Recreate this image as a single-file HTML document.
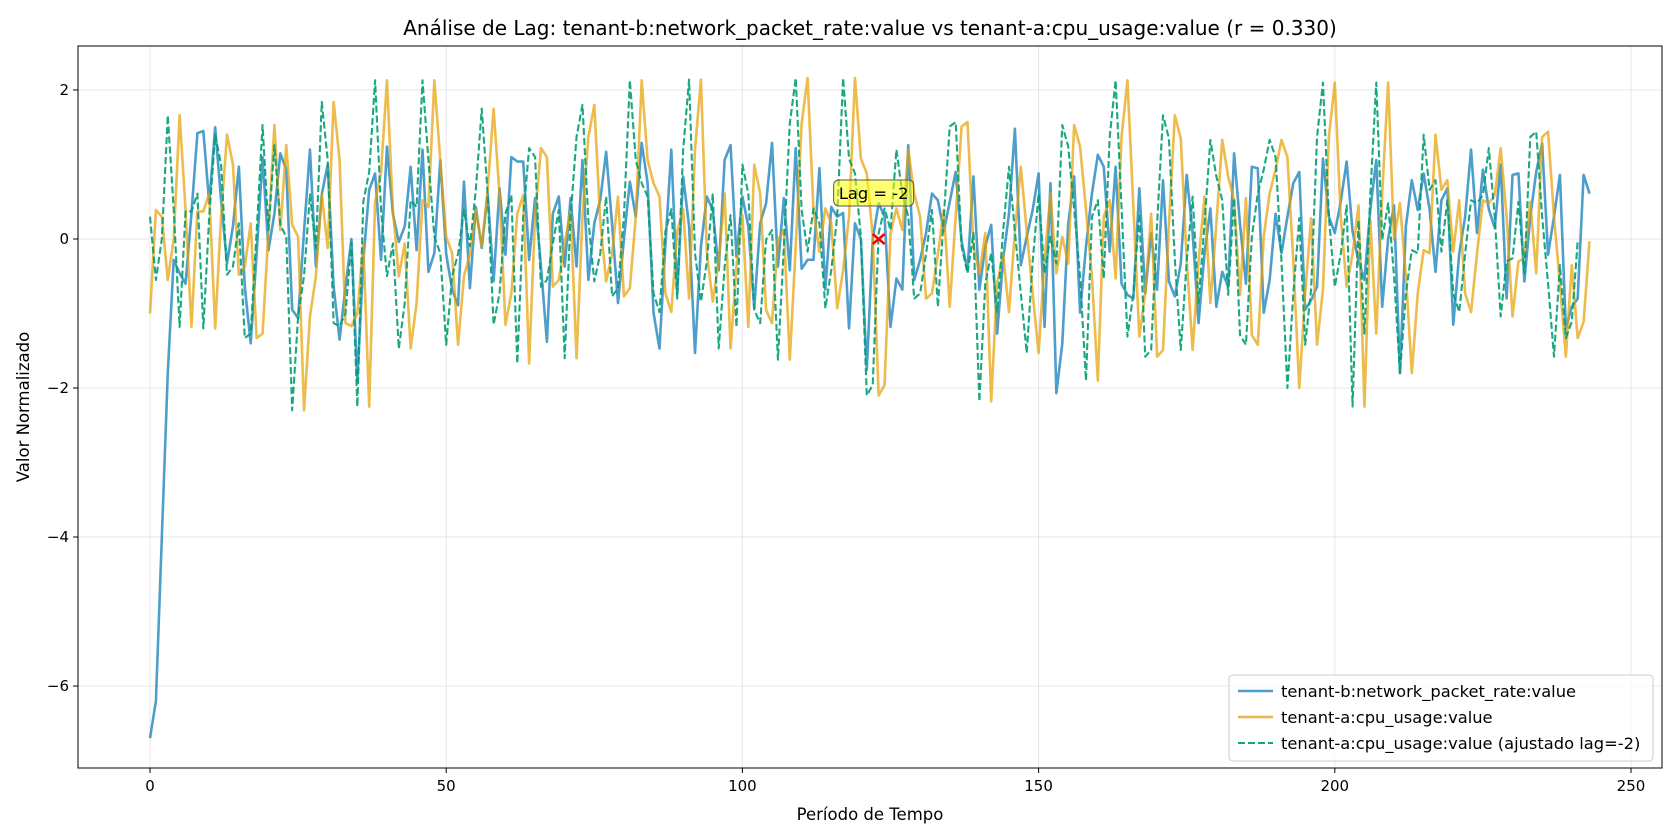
<!DOCTYPE html>
<html><head><meta charset="utf-8">
<style>
html,body{margin:0;padding:0;background:#fff;}
svg{display:block;font-family:"DejaVu Sans","Liberation Sans",sans-serif;}
</style></head>
<body>
<svg id="chart" width="1680" height="840" viewBox="0 0 1680 840" xmlns="http://www.w3.org/2000/svg">
<rect width="1680" height="840" fill="#fff"/>
<text x="870" y="35" font-size="20" text-anchor="middle" fill="#000">Análise de Lag: tenant-b:network_packet_rate:value vs tenant-a:cpu_usage:value (r = 0.330)</text>
<g id="grid"></g>
<g id="series"></g>
<rect x="78" y="46" width="1584" height="722" fill="none" stroke="#000" stroke-width="1"/>
<g id="ticks"></g>
<text x="870" y="820" font-size="16.5" text-anchor="middle">Período de Tempo</text>
<text x="0" y="0" font-size="16.5" text-anchor="middle" transform="translate(29,407) rotate(-90)">Valor Normalizado</text>
<g id="annot"></g>
<g>
<rect x="1229" y="675" width="424" height="86" rx="4" fill="#fff" fill-opacity="0.8" stroke="#ccc"/>
<g>
<line x1="1238" y1="691" x2="1273" y2="691" stroke="#4b9dcc" stroke-width="2.6"/>
<text x="1281" y="697" font-size="16.3">tenant-b:network_packet_rate:value</text></g>
<g>
<line x1="1238" y1="717" x2="1273" y2="717" stroke="#ebb44a" stroke-width="2.6"/>
<text x="1281" y="723" font-size="16.3">tenant-a:cpu_usage:value</text></g>
<g>
<line x1="1238" y1="743" x2="1273" y2="743" stroke="#12a47a" stroke-width="2" stroke-dasharray="7,3"/>
<text x="1281" y="749" font-size="16.3">tenant-a:cpu_usage:value (ajustado lag=-2)</text></g>
</g>
</svg>
<script>
const blueValues = [-6.7,-6.2,-4.0,-1.8,-0.28,-0.46,-0.6,0.35,1.42,1.45,0.48,1.5,0.52,-0.33,0.17,0.97,-0.64,-1.4,-0.2,1.1,-0.15,0.34,1.15,0.93,-0.95,-1.06,0.1,1.2,-0.37,0.6,1.0,-0.64,-1.35,-0.64,0.0,-1.9,-0.3,0.66,0.88,-0.28,
1.24,0.34,-0.04,0.17,0.97,-0.15,1.2,-0.44,-0.19,1.06,-0.2,-0.68,-0.89,0.77,-0.66,0.43,-0.12,0.61,-0.57,0.68,-0.21,1.1,1.04,1.04,-0.28,0.55,-0.37,-1.38,0.34,0.57,-0.37,0.55,-0.37,1.06,-0.55,0.21,0.52,1.17,0.2,-0.86,
0.0,0.77,0.3,1.29,0.75,-0.99,-1.47,-0.08,1.2,-0.73,0.84,0.17,-1.53,-0.1,0.57,0.39,-0.42,1.06,1.26,-0.24,0.57,0.17,-0.93,0.21,0.48,1.29,-0.37,0.55,-0.42,1.22,-0.4,-0.28,-0.28,0.95,-0.68,0.43,0.3,0.35,-1.2,0.21,
0.0,-1.76,0.0,0.48,0.3,-1.18,-0.53,-0.68,1.26,-0.55,-0.28,0.08,0.61,0.52,0.1,0.5,0.9,-0.03,-0.42,0.84,-0.68,-0.1,0.19,-1.27,-0.28,0.34,1.48,-0.35,0.03,0.39,0.88,-1.18,0.75,-2.07,-1.4,0.2,0.84,-0.99,-0.1,0.61,
1.13,0.97,-0.17,0.97,-0.6,-0.75,-0.8,0.68,-0.73,0.08,-0.68,0.79,-0.57,-0.77,-0.33,0.86,0.08,-1.13,-0.2,0.41,-0.91,-0.44,-0.64,1.15,0.2,-0.6,0.97,0.95,-0.99,-0.55,0.34,-0.19,0.3,0.75,0.9,-0.95,-0.82,-0.64,1.08,0.3,
0.08,0.5,1.04,0.1,-0.3,-0.55,0.4,1.06,-0.91,0.0,0.45,-1.8,0.17,0.79,0.39,0.88,0.4,-0.44,0.52,0.68,-1.15,-0.2,0.3,1.2,0.08,0.93,0.4,0.15,1.0,-0.8,0.86,0.88,-0.57,0.3,0.9,1.28,-0.21,0.3,0.86,-1.2,-0.91,-0.8,0.86,0.61];
const orangeValues = [-1.0,0.39,0.3,-0.55,0.0,1.66,0.4,-1.18,0.37,0.37,0.61,-1.2,0.3,1.4,1.0,-0.48,-0.37,0.21,-1.33,-1.27,0.1,1.53,0.12,1.26,0.19,0.03,-2.3,-1.04,-0.5,0.6,-0.12,1.84,1.06,-1.13,-1.17,-1.0,-0.05,-2.25,0.5,0.9,
2.13,0.39,-0.5,-0.06,-1.47,-0.86,0.52,0.43,2.13,1.06,0.03,-0.19,-1.42,-0.5,-0.2,0.39,-0.1,0.66,1.75,0.6,-1.15,-0.73,0.34,0.59,-1.67,0.3,1.22,1.1,-0.64,-0.55,-0.06,0.39,-1.6,0.3,1.37,1.8,0.25,-0.57,-0.2,0.57,
-0.77,-0.66,0.3,2.13,1.06,0.75,0.57,-0.73,-0.98,0.1,0.4,-0.8,1.2,2.14,-0.19,-0.84,-0.3,0.61,-1.47,-0.37,0.32,-1.18,1.0,0.61,-0.95,-1.13,-0.01,0.12,-1.62,-0.1,1.55,2.16,0.39,-0.17,0.41,0.21,-0.93,-0.42,0.3,2.16,
1.08,0.88,0.03,-2.1,-1.96,0.08,0.41,0.12,1.2,0.61,0.3,-0.8,-0.73,-0.2,0.39,-0.91,0.3,1.51,1.57,-0.1,-0.46,0.08,-2.18,-0.6,-0.19,-0.98,0.1,0.97,0.1,-0.73,-1.53,-0.3,0.61,-0.46,0.03,-0.33,1.53,1.24,0.4,-0.5,
-1.9,0.3,0.52,-0.53,1.37,2.13,0.43,-1.31,-0.73,0.34,-1.58,-1.49,0.2,1.66,1.35,-0.28,-1.49,-0.3,0.57,-0.86,0.2,1.33,0.84,0.52,-0.75,0.55,-1.29,-1.42,0.03,0.61,0.93,1.33,1.1,-0.3,-2.0,-0.73,0.28,-1.42,-0.68,1.37,
2.1,0.3,-0.64,-0.2,0.45,-2.25,0.25,-1.27,0.6,2.1,-0.01,0.48,-0.5,-1.8,-0.73,-0.15,-0.19,1.4,0.66,0.79,-0.17,0.52,-0.73,-0.98,-0.2,0.52,0.48,0.59,1.22,0.3,-1.04,-0.3,-0.26,0.5,-0.46,1.37,1.44,0.3,-0.6,-1.58,-0.35,-1.33,-1.11,-0.03];
const lag = -2;
const xTicks = [0,50,100,150,200,250];
const yTicks = [2,0,-2,-4,-6];
const yTickLabels = ["2","0","\u22122","\u22124","\u22126"];
const markerPoint = [123, 0];
const annotationText = "Lag = -2";

const NS = "http://www.w3.org/2000/svg";
const X0 = 150, XS = (1631-150)/250;
const Y0 = 239, YS = 74.5;
const xs = v => X0 + v*XS;
const ys = v => Y0 - v*YS;
function mk(tag, attrs, parent){const e=document.createElementNS(NS,tag);for(const k in attrs)e.setAttribute(k,attrs[k]);parent.appendChild(e);return e;}

const grid=document.getElementById('grid'), ticks=document.getElementById('ticks');
xTicks.forEach(t=>{
  const g=mk('line',{x1:xs(t),x2:xs(t),y1:46,y2:768,stroke:'#b0b0b0','stroke-opacity':0.3,'stroke-width':1},grid);
  
  
  const tk=mk('line',{x1:xs(t),x2:xs(t),y1:768,y2:773,stroke:'#000'},ticks);
  
  
  const tl=mk('text',{x:xs(t),y:791,'font-size':15,'text-anchor':'middle'},ticks);
  tl.textContent=String(t);
  
  
});
yTicks.forEach((t,i)=>{
  const g=mk('line',{x1:78,x2:1662,y1:ys(t),y2:ys(t),stroke:'#b0b0b0','stroke-opacity':0.3,'stroke-width':1},grid);
  
  
  const tk=mk('line',{x1:73,x2:78,y1:ys(t),y2:ys(t),stroke:'#000'},ticks);
  
  
  const tl=mk('text',{x:69,y:ys(t)+5,'font-size':15,'text-anchor':'end'},ticks);
  tl.textContent=yTickLabels[i];
  
  
});

const series=document.getElementById('series');
function line(vals, color, w, dash, name, op){
  const d=vals.map((v,i)=>(i?'L':'M')+xs(i).toFixed(2)+','+ys(v).toFixed(2)).join('');
  const p=mk('path',{d:d,fill:'none',stroke:color,'stroke-width':w,'stroke-linejoin':'round','stroke-opacity':op},series);
  if(dash)p.setAttribute('stroke-dasharray',dash);
  
  
}
const shifted = orangeValues.slice(-lag);
line(blueValues,'#0a78b8',2.6,null,'series-network-packet-rate',0.72);
line(orangeValues,'#e69f00',2.6,null,'series-cpu-usage',0.7);
line(shifted,'#009e73',2.1,'7,3','series-cpu-usage-lag-adjusted',0.9);

const an=document.getElementById('annot');
const mx=xs(markerPoint[0]), my=ys(markerPoint[1]);
const m1=mk('path',{d:`M${mx-6},${my-5}L${mx+6},${my+5}M${mx-6},${my+5}L${mx+6},${my-5}`,stroke:'#ff0000','stroke-width':2.5},an);


const bx=mk('rect',{x:mx-45,y:my-59,width:80,height:26,rx:5,fill:'#ffff00','fill-opacity':0.55,stroke:'#555','stroke-width':1},an);


const at=mk('text',{x:mx-5,y:my-40,'font-size':16.3,'text-anchor':'middle'},an);
at.textContent=annotationText;


</script>
</body></html>
